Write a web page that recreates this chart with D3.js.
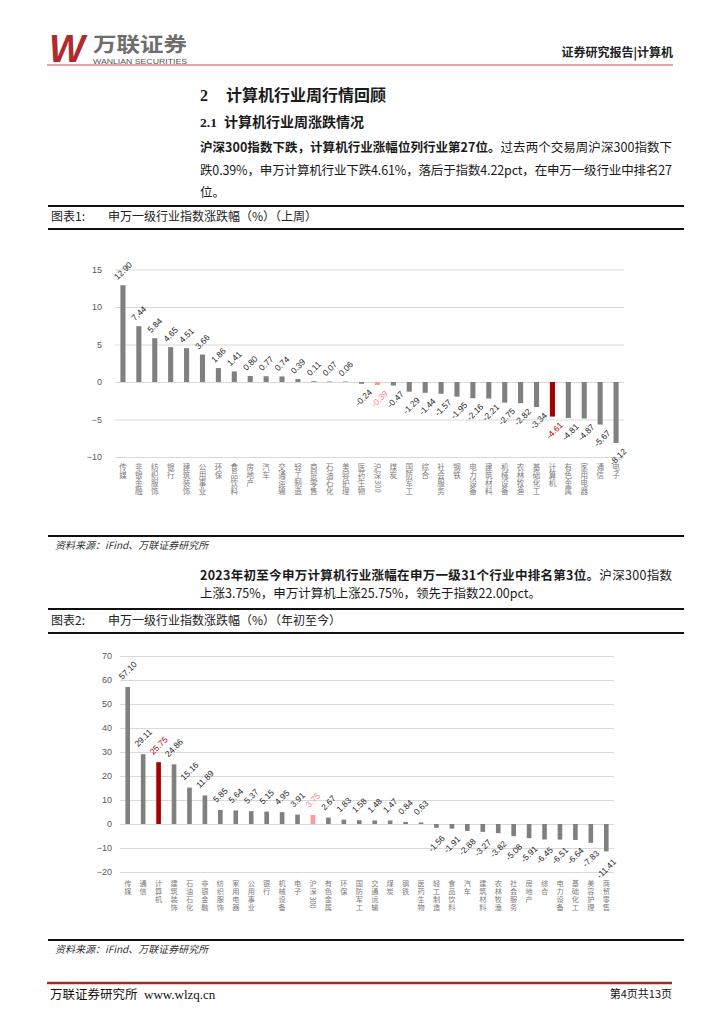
<!DOCTYPE html>
<html>
<head>
<meta charset="utf-8">
<script src="https://cdn.jsdelivr.net/npm/d3@7"></script>
<style>
  body { margin: 0; background: #fff; }
  text { font-family: "Noto Sans CJK SC", sans-serif; }
</style>
</head>
<body>
<div id="page"></div>
<script>
'use strict';

// 上周
const weekCats = ['传媒', '非银金融', '纺织服饰', '银行', '建筑装饰', '公用事业', '环保', '食品饮料',
  '房地产', '汽车', '交通运输', '轻工制造', '商贸零售', '石油石化', '美容护理', '医药生物',
  '沪深300', '煤炭', '国防军工', '综合', '社会服务', '钢铁', '电力设备', '建筑材料',
  '机械设备', '农林牧渔', '基础化工', '计算机', '有色金属', '家用电器', '通信', '电子'];
const weekVals = [12.90, 7.44, 5.84, 4.65, 4.51, 3.66, 1.86, 1.41,
  0.80, 0.77, 0.74, 0.39, 0.11, 0.07, 0.06, -0.24,
  -0.39, -0.47, -1.29, -1.44, -1.57, -1.95, -2.16, -2.21,
  -2.75, -2.82, -3.34, -4.61, -4.81, -4.87, -5.67, -8.12];
const weekTicks = [-10, -5, 0, 5, 10, 15];

// 年初至今
const ytdCats = ['传媒', '通信', '计算机', '建筑装饰', '石油石化', '非银金融', '纺织服饰', '家用电器',
  '公用事业', '银行', '机械设备', '电子', '沪深300', '有色金属', '环保', '国防军工',
  '交通运输', '煤炭', '钢铁', '医药生物', '轻工制造', '食品饮料', '汽车', '建筑材料',
  '农林牧渔', '社会服务', '房地产', '综合', '电力设备', '基础化工', '美容护理', '商贸零售'];
const ytdVals = [57.10, 29.11, 25.75, 24.86, 15.16, 11.89, 5.85, 5.64,
  5.37, 5.15, 4.95, 3.91, 3.75, 2.67, 1.83, 1.58,
  1.48, 1.47, 0.84, 0.63, -1.56, -1.91, -2.88, -3.27,
  -3.82, -5.08, -5.91, -6.45, -6.51, -6.64, -7.83, -11.41];
const ytdTicks = [-20, -10, 0, 10, 20, 30, 40, 50, 60, 70];

const barColor = (c) => c === '计算机' ? '#a50000' : (c === '沪深300' ? '#ff9999' : '#808080');
const labelColor = (c) => c === '计算机' ? '#c00000' : (c === '沪深300' ? '#ff7f7f' : '#262626');

const W = 724;
const H = 1024;

const svg = d3.select('#page')
  .append('svg')
  .attr('width', W)
  .attr('height', H)
  .attr('viewBox', `0 0 ${W} ${H}`);

const hline = (y, x1, x2, w, color) => {
  svg.append('line')
    .attr('x1', x1).attr('x2', x2)
    .attr('y1', y).attr('y2', y)
    .attr('stroke', color)
    .attr('stroke-width', w);
};

const txt = (x, y, s, size, opts = {}) => {
  const t = svg.append('text')
    .attr('x', x)
    .attr('y', y)
    .attr('font-size', size)
    .attr('fill', opts.fill || '#1a1a1a')
    .attr('font-weight', opts.weight || 'normal')
    .attr('text-anchor', opts.anchor || 'start')
    .text(s);
  if (opts.family) t.style('font-family', opts.family);
  if (opts.italic) t.attr('font-style', 'italic');
  if (opts.len) t.attr('textLength', opts.len).attr('lengthAdjust', 'spacingAndGlyphs');
  return t;
};

// header
txt(49, 62, 'W', 38, { fill: '#b02a2e', weight: 'bold', italic: true, family: '"Liberation Sans", Arial' });
txt(93, 52, '万联证券', 20, { fill: '#6e6e6e', weight: 'bold', len: 94 });
txt(93, 63.5, 'WANLIAN SECURITIES', 7.5, { fill: '#555', family: '"Liberation Sans", Arial', len: 94 });
txt(673, 57, '证券研究报告|计算机', 12, { fill: '#222', weight: 'bold', anchor: 'end' });
hline(65, 47, 673, 1, '#c0504d');

// section titles
txt(200, 101, '2', 16, { weight: 'bold', family: '"Liberation Serif", serif' });
txt(226, 101, '计算机行业周行情回顾', 16, { weight: 'bold' });
txt(200, 127, '2.1', 13.5, { weight: 'bold', family: '"Liberation Serif", serif' });
txt(224, 127, '计算机行业周涨跌情况', 14, { weight: 'bold' });

// paragraph 1
const p1 = svg.append('text').attr('x', 200).attr('y', 152).attr('font-size', 12.5).attr('fill', '#1a1a1a')
  .attr('textLength', 472).attr('lengthAdjust', 'spacing');
p1.append('tspan').attr('font-weight', 'bold').text('沪深300指数下跌，计算机行业涨幅位列行业第27位。');
p1.append('tspan').text('过去两个交易周沪深300指数下');
txt(200, 175, '跌0.39%，申万计算机行业下跌4.61%，落后于指数4.22pct，在申万一级行业中排名27', 12.5)
  .attr('textLength', 472).attr('lengthAdjust', 'spacing');
txt(200, 197, '位。', 12.5);

// figure 1 caption
hline(206, 48, 684, 2, '#111');
txt(51, 221, '图表1:', 12, { fill: '#222' });
txt(108, 221, '申万一级行业指数涨跌幅（%）（上周）', 12, { fill: '#222' });
hline(229, 48, 684, 2, '#111');

// source 1
hline(536, 48, 684, 2, '#111');
txt(55, 549, '资料来源：iFind、万联证券研究所', 10, { fill: '#333', italic: true });

// paragraph 2
const p2 = svg.append('text').attr('x', 200).attr('y', 580).attr('font-size', 12.5).attr('fill', '#1a1a1a')
  .attr('textLength', 472).attr('lengthAdjust', 'spacing');
p2.append('tspan').attr('font-weight', 'bold').text('2023年初至今申万计算机行业涨幅在申万一级31个行业中排名第3位。');
p2.append('tspan').text('沪深300指数');
txt(200, 598, '上涨3.75%，申万计算机上涨25.75%，领先于指数22.00pct。', 12.5);

// figure 2 caption
hline(609, 48, 684, 2, '#111');
txt(51, 625, '图表2:', 12, { fill: '#222' });
txt(108, 625, '申万一级行业指数涨跌幅（%）（年初至今）', 12, { fill: '#222' });
hline(633, 48, 684, 2, '#111');

// source 2
hline(940, 48, 684, 2, '#111');
txt(55, 953, '资料来源：iFind、万联证券研究所', 10, { fill: '#333', italic: true });

// footer
hline(983, 47, 672, 2.5, '#a52a2a');
txt(50, 999, '万联证券研究所', 12.5, { fill: '#111' });
txt(144, 999, 'www.wlzq.cn', 13, { fill: '#111', family: '"Liberation Serif", serif' });
txt(672, 998, '第4页共13页', 11, { fill: '#111', anchor: 'end' });

// vertical label in one text element: CJK chars stacked, digits turned sideways
const verticalLabel = (t, label, size) => {
  const chars = Array.from(label);
  let prevDigit = false;
  chars.forEach((ch, k) => {
    const digit = /[0-9]/.test(ch);
    const ts = t.append('tspan').text(ch);
    if (digit) {
      ts.attr('x', -size * 0.36)
        .attr('dy', prevDigit ? size * 0.56 : size * 0.3)
        .attr('rotate', 90)
        .attr('text-anchor', 'start');
    } else {
      ts.attr('x', 0)
        .attr('dy', k === 0 ? size * 0.88 : size * 1.1)
        .attr('text-anchor', 'middle');
    }
    prevDigit = digit;
  });
};

const drawChart = (cats, vals, opt) => {
  const xScale = d3.scaleBand()
    .domain(cats)
    .range(opt.xRange)
    .paddingInner(opt.pad)
    .paddingOuter(opt.pad / 2);

  const yScale = d3.scaleLinear()
    .domain(opt.domain)
    .range(opt.yRange);

  const width = opt.xRange[1] - opt.xRange[0];
  const chart = svg.append('g');

  chart.append('g')
    .attr('class', 'grid')
    .attr('transform', `translate(${opt.xRange[0]}, 0)`)
    .call(d3.axisLeft(yScale).tickValues(opt.ticks).tickSize(-width).tickFormat(''))
    .call(g => g.select('.domain').remove())
    .call(g => g.selectAll('line').attr('stroke', '#d9d9d9').attr('stroke-width', 1));

  chart.append('g')
    .attr('transform', `translate(${opt.labelX}, 0)`)
    .call(d3.axisLeft(yScale).tickValues(opt.ticks).tickSize(0).tickPadding(0))
    .call(g => g.select('.domain').remove())
    .call(g => g.selectAll('text')
      .attr('fill', '#595959')
      .style('font-family', '"Liberation Sans", Arial, sans-serif')
      .style('font-size', '9px'));

  chart.selectAll('rect.bar')
    .data(cats)
    .join('rect')
    .attr('class', 'bar')
    .attr('x', c => xScale(c))
    .attr('width', xScale.bandwidth())
    .attr('y', (c, i) => yScale(Math.max(0, vals[i])))
    .attr('height', (c, i) => Math.abs(yScale(vals[i]) - yScale(0)))
    .attr('fill', c => barColor(c));

  chart.selectAll('text.value')
    .data(cats)
    .join('text')
    .attr('class', 'value')
    .attr('text-anchor', 'middle')
    .attr('dy', '0.35em')
    .attr('fill', c => labelColor(c))
    .style('font-family', '"Liberation Sans", Arial, sans-serif')
    .style('font-size', opt.valueSize + 'px')
    .text((c, i) => vals[i].toFixed(2))
    .each(function(c, i) {
      const len = this.getComputedTextLength();
      const off = (len + opt.valueSize) * 0.3536 + opt.gap;
      const v = vals[i];
      const cx = xScale(c) + xScale.bandwidth() / 2 + (v < 0 ? opt.negShift : 0);
      const cy = v >= 0 ? yScale(v) - off : yScale(v) + off;
      d3.select(this).attr('transform', `translate(${cx}, ${cy}) rotate(-45)`);
    });

  chart.selectAll('text.cat')
    .data(cats)
    .join('text')
    .attr('class', 'cat')
    .attr('fill', '#7a7a7a')
    .attr('font-size', opt.catSize)
    .attr('transform', c => `translate(${xScale(c) + xScale.bandwidth() / 2}, ${opt.catY})`)
    .each(function(c) {
      verticalLabel(d3.select(this), c, opt.catSize);
    });
};

drawChart(weekCats, weekVals, {
  xRange: [115, 624],
  yRange: [457, 269.5],
  domain: [-10, 15],
  ticks: weekTicks,
  pad: 0.68,
  labelX: 102,
  valueSize: 8.5,
  gap: 4,
  negShift: 2,
  catY: 463,
  catSize: 7.5
});

drawChart(ytdCats, ytdVals, {
  xRange: [120, 614],
  yRange: [872, 656],
  domain: [-20, 70],
  ticks: ytdTicks,
  pad: 0.7,
  labelX: 112,
  valueSize: 8.5,
  gap: 6,
  negShift: 0,
  catY: 880,
  catSize: 7.2
});
</script>
</body>
</html>
